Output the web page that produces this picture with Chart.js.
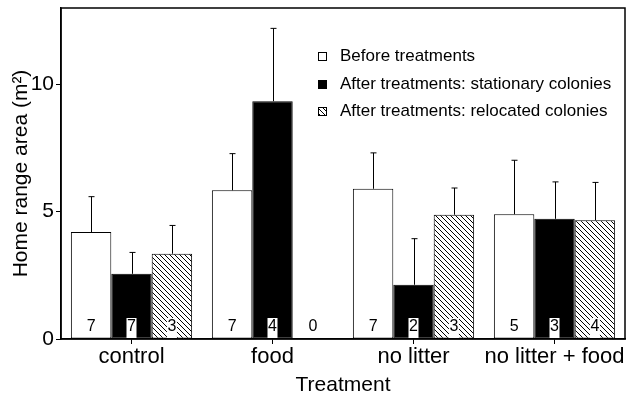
<!DOCTYPE html>
<html>
<head>
<meta charset="utf-8">
<script src="https://cdn.jsdelivr.net/npm/chart.js@4.4.1/dist/chart.umd.min.js"></script>
<style>
  html, body { margin: 0; padding: 0; background: #fff; }
  #wrap { width: 626px; height: 402px; }
</style>
</head>
<body>
<div id="wrap"><canvas id="grafico" width="626" height="402"></canvas></div>
<script>
// ===== Datos =====
const tratamientos = ["control", "food", "no litter", "no litter + food"];
const etiquetasSerie = ["Before treatments", "After treatments: stationary colonies", "After treatments: relocated colonies"];

const antes = [4.2, 5.84, 5.9, 4.9];
const estacionarias = [2.56, 9.34, 2.13, 4.72];
const reubicadas = [3.35, 0, 4.88, 4.66];

// error (solo hacia arriba)
const errAntes = [1.39, 1.44, 1.41, 2.12];
const errEstacionarias = [0.84, 2.86, 1.81, 1.45];
const errReubicadas = [1.11, null, 1.05, 1.49];

// tamaño de muestra
const nAntes = [7, 7, 7, 5];
const nEstacionarias = [7, 4, 2, 3];
const nReubicadas = [3, 0, 3, 4];

const yTicks = [0, 5, 10];
const FUENTE = "'Liberation Sans', Arial, Helvetica, sans-serif";

// ===== Patrón rayado =====
function crearRayado() {
  const s = 5;
  const c = document.createElement("canvas");
  c.width = s; c.height = s;
  const g = c.getContext("2d");
  g.fillStyle = "#fff";
  g.fillRect(0, 0, s, s);
  g.strokeStyle = "#000";
  g.lineWidth = 1;
  [-s, 0, s].forEach(k => {
    g.beginPath();
    g.moveTo(k, 0);
    g.lineTo(k + s, s);
    g.stroke();
  });
  return document.getElementById("grafico").getContext("2d").createPattern(c, "repeat");
}
const rayado = crearRayado();

const errores = [errAntes, errEstacionarias, errReubicadas];
const tamanos = [nAntes, nEstacionarias, nReubicadas];

// ===== Plugins =====
const marcoPlugin = {
  id: "marco",
  afterDraw(chart) {
    const { ctx, chartArea: a } = chart;
    ctx.save();
    ctx.strokeStyle = "#000";
    ctx.lineWidth = 1.5;
    ctx.strokeRect(a.left, a.top, a.right - a.left, a.bottom - a.top);
    ctx.restore();
  }
};

const erroresPlugin = {
  id: "errores",
  afterDatasetsDraw(chart) {
    const { ctx } = chart;
    const y = chart.scales.y;
    ctx.save();
    ctx.strokeStyle = "#000";
    ctx.lineWidth = 1;
    chart.data.datasets.forEach((ds, i) => {
      const meta = chart.getDatasetMeta(i);
      meta.data.forEach((el, j) => {
        const e = errores[i][j];
        if (e == null) return;
        const x = Math.round(el.x) + 0.5;
        const yTop = y.getPixelForValue(ds.data[j] + e);
        ctx.beginPath();
        ctx.moveTo(x, el.y);
        ctx.lineTo(x, yTop);
        ctx.moveTo(x - 3, yTop);
        ctx.lineTo(x + 3, yTop);
        ctx.stroke();
      });
    });
    // n dentro de las barras
    ctx.font = "16px " + FUENTE;
    ctx.textAlign = "center";
    ctx.textBaseline = "middle";
    chart.data.datasets.forEach((ds, i) => {
      const meta = chart.getDatasetMeta(i);
      meta.data.forEach((el, j) => {
        const yb = chart.scales.y.getPixelForValue(0);
        if (i > 0 && tamanos[i][j] > 0) {
          ctx.fillStyle = "#fff";
          ctx.fillRect(el.x - 5, yb - 21, 10, 20);
        }
        ctx.fillStyle = "#000";
        ctx.fillText(String(tamanos[i][j]), el.x, yb - 12);
      });
    });
    ctx.restore();
  }
};

const leyendaPlugin = {
  id: "leyenda",
  afterDraw(chart) {
    const { ctx } = chart;
    const filas = [56, 84, 111];
    ctx.save();
    ctx.font = "17px " + FUENTE;
    ctx.textBaseline = "middle";
    ctx.textAlign = "left";
    chart.data.datasets.forEach((ds, i) => {
      const yy = filas[i];
      ctx.fillStyle = ds.backgroundColor;
      ctx.fillRect(318, yy - 4, 9, 9);
      ctx.strokeStyle = "#000";
      ctx.lineWidth = 1;
      ctx.strokeRect(318.5, yy - 3.5, 8, 8);
      ctx.fillStyle = "#000";
      ctx.fillText(ds.label, 340, yy);
    });
    ctx.restore();
  }
};

// ===== Gráfico =====
new Chart(document.getElementById("grafico"), {
  type: "bar",
  data: {
    labels: tratamientos,
    datasets: [
      { label: etiquetasSerie[0], data: antes, backgroundColor: "#fff" },
      { label: etiquetasSerie[1], data: estacionarias, backgroundColor: "#000" },
      { label: etiquetasSerie[2], data: reubicadas, backgroundColor: rayado }
    ].map(d => Object.assign(d, { borderColor: "#000", borderWidth: 1, borderSkipped: false, barPercentage: 1, categoryPercentage: 0.86 }))
  },
  plugins: [erroresPlugin, marcoPlugin, leyendaPlugin],
  options: {
    responsive: false,
    animation: false,
    layout: { padding: { top: 8, right: 1, left: 0, bottom: 0 } },
    plugins: { legend: { display: false }, tooltip: { enabled: false } },
    scales: {
      x: {
        grid: { display: true, drawOnChartArea: false, offset: false, tickLength: 5, color: "#000" },
        border: { color: "#000", width: 1.5 },
        ticks: { color: "#000", font: { family: FUENTE, size: 22 }, padding: 0, maxRotation: 0, autoSkip: false },
        title: { display: true, text: "Treatment", color: "#000", font: { family: FUENTE, size: 21 }, padding: { top: 0, bottom: 4 } },
        afterFit(s) { s.height = 63; s.paddingLeft = 0; s.paddingRight = 0; }
      },
      y: {
        min: 0, max: 13,
        afterBuildTicks(s) { s.ticks = yTicks.map(v => ({ value: v })); },
        grid: { display: true, drawOnChartArea: false, tickLength: 5, color: "#000" },
        border: { color: "#000", width: 1.5 },
        ticks: { color: "#000", font: { family: FUENTE, size: 21 }, padding: 2 },
        title: { display: true, text: "Home range area (m²)", color: "#000", font: { family: FUENTE, size: 21 }, padding: { top: 9, bottom: 0 } },
        afterFit(s) { s.width = 61; s.paddingTop = 0; s.paddingBottom = 0; }
      }
    }
  }
});
</script>
</body>
</html>
